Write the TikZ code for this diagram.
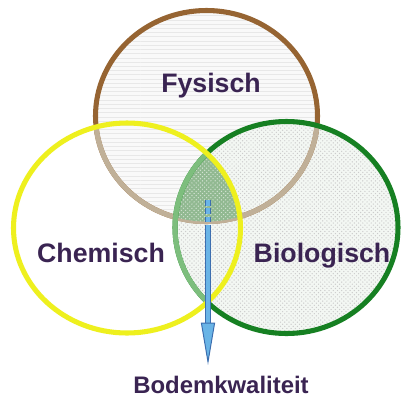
\documentclass[tikz,border=0pt]{standalone}
\usepackage{fontspec}
\setmainfont{Liberation Sans}
\usepackage{tikz}
\usetikzlibrary{arrows.meta, positioning, patterns}
\definecolor{darkpurple}{RGB}{58, 36, 82}
\definecolor{ringbrown}{RGB}{150, 100, 50}
\definecolor{ringtan}{RGB}{192, 176, 152}
\definecolor{ringyellow}{RGB}{238, 240, 30}
\definecolor{ringgreen}{RGB}{22, 128, 34}
\definecolor{ringlightgreen}{RGB}{125, 190, 125}
\definecolor{corefill}{RGB}{145, 185, 145}
\definecolor{arrowblue}{RGB}{60, 110, 175}
\definecolor{arrowfill}{RGB}{105, 180, 230}
\newcommand{\fysring}{(206.5,116) ellipse [x radius=111, y radius=105.5]}
\newcommand{\chemring}{(127,228) ellipse [x radius=113.5, y radius=105]}
\newcommand{\bioring}{(286.5,227.5) ellipse [x radius=111.5, y radius=106]}
\tikzset{
    areatext/.style = {font=\fontsize{19}{22}\selectfont\bfseries, text=darkpurple, inner sep=0pt, anchor=base},
    resulttext/.style = {font=\fontsize{17}{20}\selectfont\bfseries, text=darkpurple, inner sep=0pt, anchor=base},
    rim/.style = {line width=3.6pt},
    shaft/.style = {draw=arrowblue, line width=0.7pt, double=arrowfill, double distance=2.6pt}
}

\begin{document}
\begin{tikzpicture}[x=0.025cm, y=-0.025cm]
\useasboundingbox (0,0) rectangle (402,396);
\fill[white] (0,0) rectangle (402,396);
\fill[gray!5] \fysring;
\fill[pattern=horizontal lines, pattern color=gray!18] \fysring;
\fill[green!20!gray!8] \bioring;
\fill[pattern=crosshatch dots, pattern color=gray!40] \bioring;

\draw[rim, ringbrown] \fysring;
\begin{scope}
\clip \chemring;
\draw[rim, ringtan] \fysring;
\end{scope}
\begin{scope}
\clip \bioring;
\draw[rim, ringtan] \fysring;
\end{scope}
\begin{scope}
\clip \fysring;
\clip \chemring;
\fill[corefill] \bioring;
\fill[pattern=crosshatch dots, pattern color=white!60!corefill] \bioring;
\end{scope}
\draw[rim, ringgreen] \bioring;
\begin{scope}
\clip \chemring;
\draw[rim, ringlightgreen] \bioring;
\end{scope}
\draw[rim, ringyellow] \chemring;

\node[areatext] (fys) at (211,92) {Fysisch};
\node[areatext] (chem) at (101,262) {Chemisch};
\node[areatext] (bio) at (322,262) {Biologisch};
\node[resulttext] (kwal) at (221,393) {Bodemkwaliteit};
\coordinate (core) at (208,200);
\coordinate (corebase) at (208,222);

\draw[shaft, dash pattern=on 4pt off 2pt] (core) -- (corebase);
\draw[shaft, -{Triangle[length=30pt, width=10pt, fill=arrowfill]}, shorten >=7.5pt] ([yshift=-2pt]corebase) -- (corebase |- kwal.north);
\end{tikzpicture}
\end{document}
